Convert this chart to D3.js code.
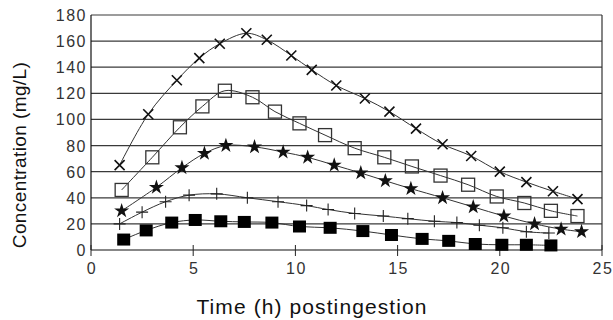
<!DOCTYPE html>
<html>
<head>
<meta charset="utf-8">
<script src="https://cdn.jsdelivr.net/npm/d3@7"></script>
<style>
  body { margin: 0; background: #fff; }
  svg { display: block; }
  text { font-family: "Liberation Sans", Arial, sans-serif; fill: #111; }
</style>
</head>
<body>
<svg></svg>
<script>
// series: hours, mg/L
var timeCross  = [1.4, 2.8, 4.2, 5.3, 6.3, 7.6, 8.6, 9.8, 10.8, 12.0, 13.4, 14.6, 15.9, 17.2, 18.6, 20.0, 21.3, 22.6, 23.8];
var concCross  = [65, 104, 130, 147, 158, 166, 161, 149, 138, 126, 116, 106, 93, 81, 72, 60, 52, 45, 39];

var timeSquare = [1.5, 3.0, 4.35, 5.45, 6.55, 7.9, 9.0, 10.2, 11.45, 12.9, 14.35, 15.7, 17.1, 18.45, 19.85, 21.2, 22.5, 23.8];
var concSquare = [46, 71, 94, 110, 122, 117, 106, 97, 88, 78, 71, 64, 57, 50, 41, 36, 30, 26];

var timeStar   = [1.5, 3.2, 4.45, 5.55, 6.6, 8.0, 9.4, 10.6, 11.9, 13.2, 14.4, 15.65, 17.2, 18.7, 20.2, 21.7, 23.0, 24.0];
var concStar   = [30, 48, 63, 74, 80, 79, 75, 71, 65, 59, 53, 47, 40, 33, 26, 20, 16, 14];

var timePlus   = [1.4, 2.5, 3.65, 4.8, 6.15, 7.65, 9.15, 10.55, 11.6, 12.9, 14.3, 15.5, 16.8, 17.9, 19.0, 20.15, 21.3, 22.4];
var concPlus   = [20, 29, 37, 42, 43, 40, 37, 34, 31, 28, 26, 24, 22, 21, 19, 17, 14, 13];

var timeFilled = [1.6, 2.7, 3.95, 5.1, 6.35, 7.5, 8.85, 10.2, 11.7, 13.3, 14.7, 16.2, 17.5, 18.8, 20.1, 21.3, 22.5];
var concFilled = [8, 15, 21, 23, 22, 21.5, 21, 18, 17, 14.5, 11.5, 8.5, 7, 4.6, 4, 4, 3.5];

var xTicks = [0, 5, 10, 15, 20, 25];
var yTicks = [0, 20, 40, 60, 80, 100, 120, 140, 160, 180];

var width = 613, height = 320;
var svg = d3.select('svg').attr('width', width).attr('height', height);

var x = d3.scaleLinear().domain([0, 25]).range([91, 602]);
var y = d3.scaleLinear().domain([0, 180]).range([250, 15]);

// gridlines
svg.append('g')
  .selectAll('line')
  .data(yTicks.slice(1))
  .enter().append('line')
  .attr('x1', x(0)).attr('x2', x(25))
  .attr('y1', function(d) { return y(d); })
  .attr('y2', function(d) { return y(d); })
  .attr('stroke', '#3a3a3a')
  .attr('stroke-width', 1.2);

// frame: left axis, bottom axis, right edge
svg.append('line').attr('x1', x(0)).attr('x2', x(0)).attr('y1', y(0)).attr('y2', y(180))
  .attr('stroke', '#111').attr('stroke-width', 1.2);
svg.append('line').attr('x1', x(25)).attr('x2', x(25)).attr('y1', y(0)).attr('y2', y(180))
  .attr('stroke', '#333').attr('stroke-width', 1.2);
svg.append('line').attr('x1', x(0)).attr('x2', x(25)).attr('y1', y(0)).attr('y2', y(0))
  .attr('stroke', '#111').attr('stroke-width', 1.2);

// x ticks crossing the axis
svg.append('g')
  .selectAll('line')
  .data(xTicks)
  .enter().append('line')
  .attr('x1', function(d) { return x(d); })
  .attr('x2', function(d) { return x(d); })
  .attr('y1', y(0) - 5).attr('y2', y(0) + 6)
  .attr('stroke', '#222').attr('stroke-width', 1);

// tick labels
svg.append('g')
  .selectAll('text')
  .data(xTicks)
  .enter().append('text')
  .attr('x', function(d) { return x(d) + 1; })
  .attr('y', 274)
  .attr('text-anchor', 'middle')
  .style('font-size', '16px')
  .style('letter-spacing', '1.5px')
  .style('fill', '#333')
  .text(function(d) { return d; });

svg.append('g')
  .selectAll('text')
  .data(yTicks)
  .enter().append('text')
  .attr('x', 87)
  .attr('y', function(d) { return y(d) + 6; })
  .attr('text-anchor', 'end')
  .style('font-size', '16px')
  .style('letter-spacing', '1.5px')
  .style('fill', '#333')
  .text(function(d) { return d; });

// axis titles
svg.append('text')
  .attr('x', 312).attr('y', 314)
  .attr('text-anchor', 'middle')
  .style('font-size', '21px')
  .style('letter-spacing', '1.1px')
  .text('Time (h) postingestion');

svg.append('text')
  .attr('transform', 'translate(26,155) rotate(-90)')
  .attr('text-anchor', 'middle')
  .style('font-size', '19px')
  .style('letter-spacing', '0.4px')
  .text('Concentration (mg/L)');

// curves
var line = d3.line()
  .x(function(d) { return x(d[0]); })
  .y(function(d) { return y(d[1]); })
  .curve(d3.curveCatmullRom.alpha(0.5));

var series = [
  { t: timeCross,  c: concCross,  kind: 'cross' },
  { t: timeSquare, c: concSquare, kind: 'square' },
  { t: timeStar,   c: concStar,   kind: 'star' },
  { t: timePlus,   c: concPlus,   kind: 'plus' },
  { t: timeFilled, c: concFilled, kind: 'filled' }
];

series.forEach(function(s) {
  s.points = d3.zip(s.t, s.c);
  svg.append('path')
    .datum(s.points)
    .attr('d', line)
    .attr('fill', 'none')
    .attr('stroke', '#333')
    .attr('stroke-width', 1);
});

var starPath = d3.symbol().type(d3.symbolStar).size(70)();

series.forEach(function(s) {
  var g = svg.append('g')
    .selectAll('g')
    .data(s.points)
    .enter().append('g')
    .attr('transform', function(d) { return 'translate(' + x(d[0]) + ',' + y(d[1]) + ')'; });

  if (s.kind === 'cross') {
    g.append('path').attr('d', 'M-5,-5L5,5M-5,5L5,-5')
      .attr('stroke', '#111').attr('stroke-width', 1.6).attr('fill', 'none');
  } else if (s.kind === 'square') {
    g.append('rect').attr('x', -6.5).attr('y', -6.5).attr('width', 13).attr('height', 13)
      .attr('fill', 'none').attr('stroke', '#333').attr('stroke-width', 1.3);
  } else if (s.kind === 'star') {
    g.append('path').attr('d', starPath).attr('fill', '#111');
  } else if (s.kind === 'plus') {
    g.append('path').attr('d', 'M-6,0L6,0M0,-6L0,6')
      .attr('stroke', '#222').attr('stroke-width', 1.1).attr('fill', 'none');
  } else {
    g.append('rect').attr('x', -6.5).attr('y', -6).attr('width', 13).attr('height', 12)
      .attr('fill', '#000');
  }
});
</script>
</body>
</html>
